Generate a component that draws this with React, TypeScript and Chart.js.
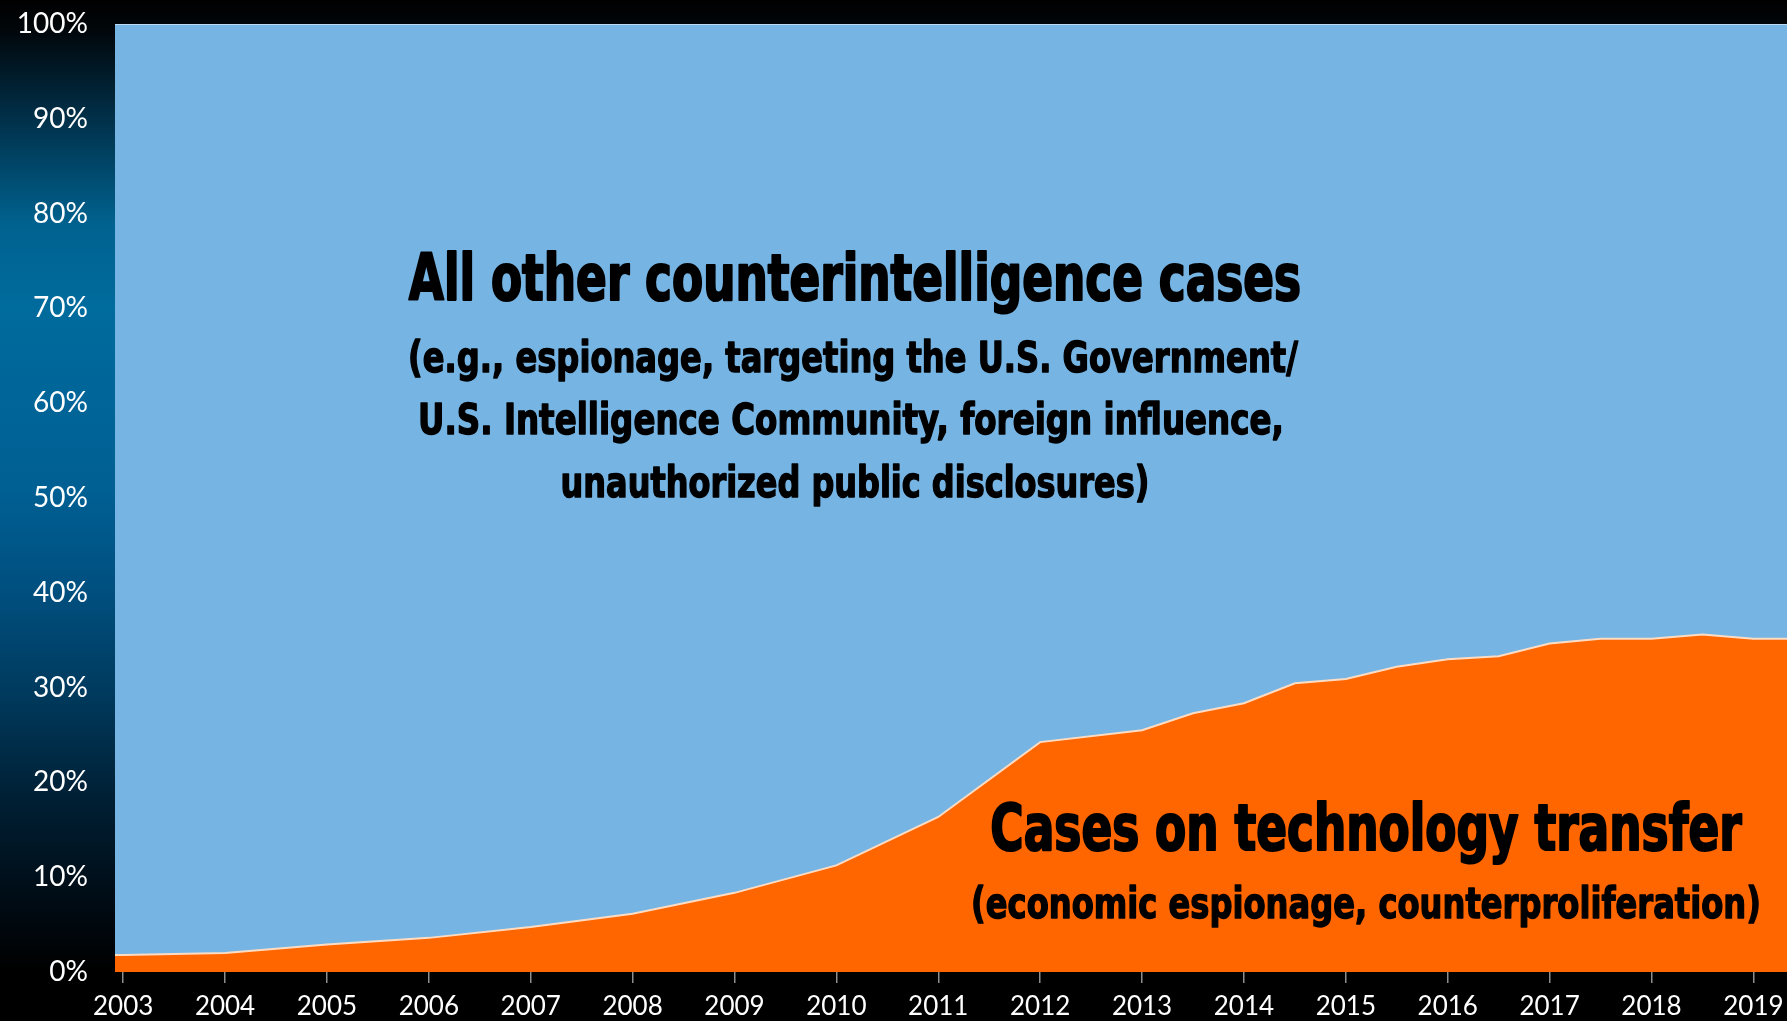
import React, { useEffect, useRef } from "react";
import { Chart, registerables } from "chart.js";

Chart.register(...registerables);

// ---- data (share of all counterintelligence cases, %) ----
const periods = [2003, 2004, 2005, 2006, 2007, 2008, 2009, 2010, 2011, 2012, 2013, 2013.5, 2014, 2014.5, 2015, 2015.5, 2016, 2016.5, 2017, 2017.5, 2018, 2018.5, 2019];
const techTransferShare = [1.8, 2.0, 2.9, 3.6, 4.75, 6.15, 8.35, 11.25, 16.35, 24.25, 25.5, 27.3, 28.35, 30.45, 30.9, 32.2, 33.0, 33.3, 34.65, 35.15, 35.15, 35.6, 35.15];
const otherCiShare = [98.2, 98.0, 97.1, 96.4, 95.25, 93.85, 91.65, 88.75, 83.65, 75.75, 74.5, 72.7, 71.65, 69.55, 69.1, 67.8, 67.0, 66.7, 65.35, 64.85, 64.85, 64.4, 64.85];
const yearTicks = [2003, 2004, 2005, 2006, 2007, 2008, 2009, 2010, 2011, 2012, 2013, 2014, 2015, 2016, 2017, 2018, 2019];
const yTickValues = [0, 10, 20, 30, 40, 50, 60, 70, 80, 90, 100];

const otherTitle = "All other counterintelligence cases";
const otherSubtitle = [
  "(e.g., espionage, targeting the U.S. Government/",
  "U.S. Intelligence Community, foreign influence,",
  "unauthorized public disclosures)",
];
const techTitle = "Cases on technology transfer";
const techSubtitle = "(economic espionage, counterproliferation)";

// visible x-range of the plot (years)
const X_MIN = 2002.92;
const X_MAX = 2019.33;

const W = 1787;
const H = 1021;

function withEdges(values: number[]) {
  const pts = periods.map((p, i) => ({ x: p, y: values[i] }));
  return [{ x: X_MIN, y: values[0] }, ...pts, { x: X_MAX, y: values[values.length - 1] }];
}

const CONDENSED = '"Liberation Sans Narrow", "DejaVu Sans Condensed", "Noto Sans", sans-serif';

function drawFitted(ctx: CanvasRenderingContext2D, text: string, cx: number, baseline: number, size: number, width: number, stroke: number) {
  ctx.save();
  ctx.font = `bold ${size}px ${CONDENSED}`;
  ctx.textAlign = "center";
  ctx.textBaseline = "alphabetic";
  const w = ctx.measureText(text).width + stroke;
  const k = width / w;
  ctx.translate(cx, baseline);
  ctx.scale(k, 1);
  ctx.fillStyle = "#000000";
  ctx.strokeStyle = "#000000";
  ctx.lineWidth = stroke;
  ctx.lineJoin = "round";
  ctx.fillText(text, 0, 0);
  ctx.strokeText(text, 0, 0);
  ctx.restore();
}

const backgroundPlugin = {
  id: "bgGradient",
  beforeDraw(chart: any) {
    const { ctx } = chart;
    const g = ctx.createLinearGradient(0, 0, 0, H);
    g.addColorStop(0, "#000000");
    g.addColorStop(0.03, "#01070b");
    g.addColorStop(0.12, "#01324c");
    g.addColorStop(0.22, "#00628f");
    g.addColorStop(0.3, "#006b9d");
    g.addColorStop(0.48, "#005f93");
    g.addColorStop(0.58, "#004f7f");
    g.addColorStop(0.68, "#003a5d");
    g.addColorStop(0.78, "#002035");
    g.addColorStop(0.88, "#000c15");
    g.addColorStop(0.95, "#000000");
    g.addColorStop(1, "#000000");
    ctx.save();
    ctx.fillStyle = g;
    ctx.fillRect(0, 0, W, H);
    ctx.restore();
  },
};

const labelsPlugin = {
  id: "areaLabels",
  afterDatasetsDraw(chart: any) {
    const { ctx } = chart;
    drawFitted(ctx, otherTitle, 855, 300, 64, 894, 2.2);
    drawFitted(ctx, otherSubtitle[0], 853, 372, 43, 891, 1.4);
    drawFitted(ctx, otherSubtitle[1], 851, 434, 43, 867, 1.4);
    drawFitted(ctx, otherSubtitle[2], 855, 497, 43, 590, 1.4);
    drawFitted(ctx, techTitle, 1366, 850, 64, 753, 2.2);
    drawFitted(ctx, techSubtitle, 1366, 918, 43, 791, 1.4);
  },
};

export default function App() {
  const ref = useRef<HTMLCanvasElement | null>(null);

  useEffect(() => {
    if (!ref.current) return;
    const chart = new Chart(ref.current, {
      type: "line",
      data: {
        datasets: [
          {
            label: "Cases on technology transfer",
            data: withEdges(techTransferShare),
            backgroundColor: "#ff6600",
            borderColor: "#fddcc4",
            borderWidth: 2,
            fill: "origin",
            pointRadius: 0,
            tension: 0,
          },
          {
            label: "All other counterintelligence cases",
            data: withEdges(otherCiShare),
            backgroundColor: "#75b4e3",
            borderColor: "#d4e8f7",
            borderWidth: 1.5,
            fill: "-1",
            pointRadius: 0,
            tension: 0,
          },
        ],
      },
      options: {
        responsive: false,
        devicePixelRatio: 1,
        animation: false,
        events: [],
        layout: { padding: { top: 24, left: 0, right: 0, bottom: 0 } },
        plugins: {
          legend: { display: false },
          tooltip: { enabled: false },
          title: { display: false },
        },
        scales: {
          x: {
            type: "linear",
            min: X_MIN,
            max: X_MAX,
            afterBuildTicks: (scale: any) => {
              scale.ticks = yearTicks.map((v) => ({ value: v }));
            },
            afterFit: (scale: any) => {
              scale.height = 49;
              scale.paddingLeft = 0;
              scale.paddingRight = 0;
            },
            grid: {
              display: true,
              drawOnChartArea: false,
              drawTicks: true,
              tickLength: 11,
              color: "#8e8e8e",
              lineWidth: 1.5,
            },
            border: { display: false },
            ticks: {
              autoSkip: false,
              maxRotation: 0,
              padding: 8,
              color: "#ffffff",
              font: { family: "Lato, 'Noto Sans', sans-serif", size: 26 },
              callback: (v: any) => String(v),
            },
          },
          y: {
            stacked: true,
            min: 0,
            max: 100,
            afterBuildTicks: (scale: any) => {
              scale.ticks = yTickValues.map((v) => ({ value: v }));
            },
            afterFit: (scale: any) => {
              scale.width = 115;
              scale.paddingTop = 0;
              scale.paddingBottom = 0;
            },
            grid: { display: false, drawTicks: false },
            border: { display: false },
            ticks: {
              padding: 27,
              color: "#ffffff",
              font: { family: "Lato, 'Noto Sans', sans-serif", size: 28 },
              callback: (v: any) => `${v}%`,
            },
          },
        },
      },
      plugins: [backgroundPlugin, labelsPlugin],
    });
    return () => chart.destroy();
  }, []);

  return (
    <div style={{ position: "absolute", left: 0, top: 0, width: W, height: H }}>
      <canvas ref={ref} width={W} height={H} style={{ display: "block", width: W, height: H }} />
    </div>
  );
}
